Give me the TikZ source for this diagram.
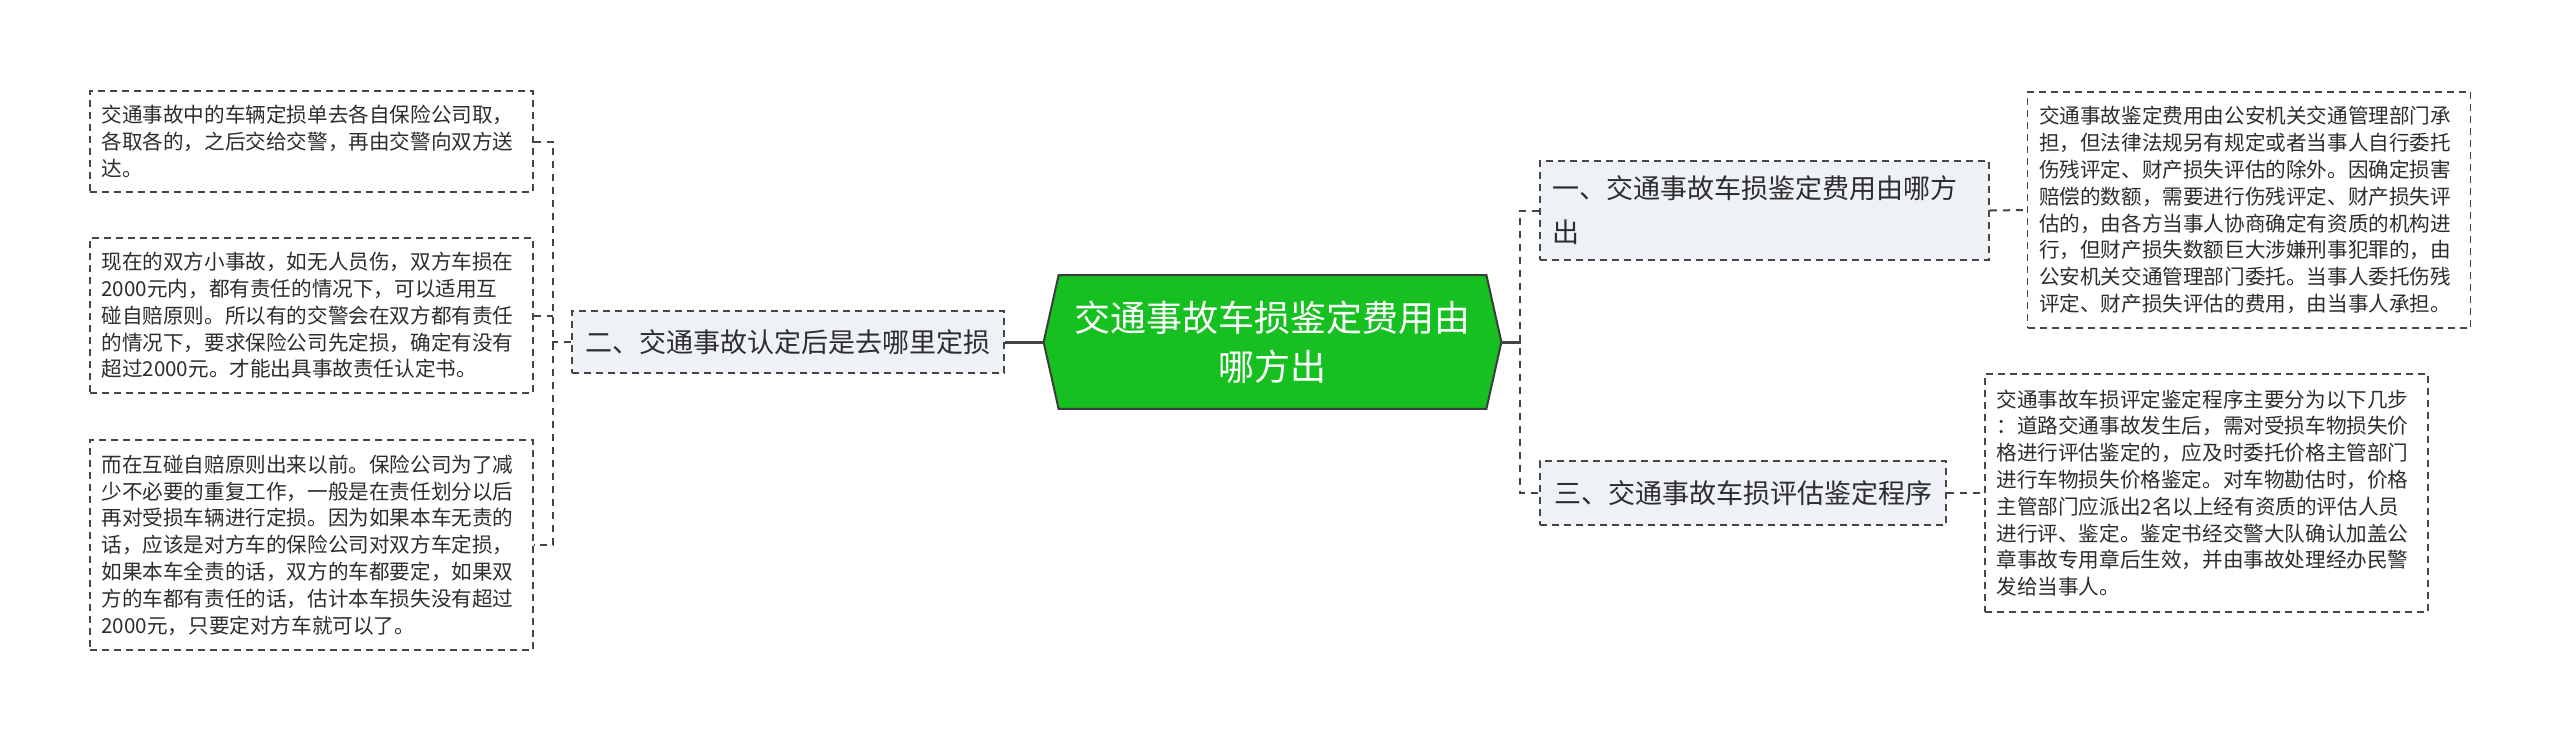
\documentclass[tikz,border=0pt]{standalone}
\usepackage{fontspec}
\setmainfont{Noto Sans CJK SC}
\usetikzlibrary{backgrounds}
\definecolor{ink}{RGB}{45,45,45}
\definecolor{lineclr}{RGB}{68,68,68}
\definecolor{boxline}{RGB}{70,70,70}
\definecolor{secfill}{RGB}{238,241,245}
\definecolor{cgreen}{RGB}{22,192,32}
\definecolor{cborder}{RGB}{60,60,60}
\tikzset{
  tbox/.style={draw=boxline, line width=0.75pt, dash pattern=on 3.5pt off 2.5pt,
    fill=white, text width=210pt, inner xsep=5.75pt, inner ysep=0pt, align=left,
    font=\fontsize{10.3pt}{13.4pt}\selectfont, text=ink, anchor=center},
  sbox/.style={draw=boxline, line width=0.75pt, dash pattern=on 3.5pt off 2.5pt,
    fill=secfill, inner xsep=6pt, inner ysep=0pt, align=left,
    font=\fontsize{13.5pt}{22pt}\selectfont, text=ink, anchor=center},
  cbox/.style={minimum width=228.5pt, minimum height=66.5pt, inner sep=0pt, align=center,
    font=\fontsize{18pt}{24.5pt}\selectfont, text=white, anchor=center},
  dcon/.style={draw=lineclr, line width=1pt, dash pattern=on 3.5pt off 3pt},
  scon/.style={draw=lineclr, line width=1.5pt},
}
\begin{document}
\begin{tikzpicture}[x=0.5pt,y=-0.5pt]
\useasboundingbox (0,0) rectangle (2560,740);

% central
\node[cbox] (c) at (1272.5,342) {交通事故车损鉴定费用由\\哪方出};

% secondary
\node[sbox, minimum width=216pt, minimum height=31pt] (m) at (788,342) {二、交通事故认定后是去哪里定损};
\node[sbox, text width=212.5pt, minimum height=49.5pt] (r1) at (1764.5,210.5) {一、交通事故车损鉴定费用由哪方\\出};
\node[sbox, minimum width=203pt, minimum height=32pt] (r3) at (1743,493) {三、交通事故车损评估鉴定程序};

% text boxes left
\node[tbox, minimum height=50.5pt] (l1) at (311.5,141.5) {交通事故中的车辆定损单去各自保险公司取，\\
各取各的，之后交给交警，再由交警向双方送\\
达。};
\node[tbox, minimum height=77.5pt] (l2) at (311.5,315.5) {现在的双方小事故，如无人员伤，双方车损在\\
2000元内，都有责任的情况下，可以适用互\\
碰自赔原则。所以有的交警会在双方都有责任\\
的情况下，要求保险公司先定损，确定有没有\\
超过2000元。才能出具事故责任认定书。};
\node[tbox, minimum height=105pt] (l3) at (311.5,545) {而在互碰自赔原则出来以前。保险公司为了减\\
少不必要的重复工作，一般是在责任划分以后\\
再对受损车辆进行定损。因为如果本车无责的\\
话，应该是对方车的保险公司对双方车定损，\\
如果本车全责的话，双方的车都要定，如果双\\
方的车都有责任的话，估计本车损失没有超过\\
2000元，只要定对方车就可以了。};

% text boxes right
\node[tbox, minimum height=118pt] (t1) at (2249,210) {交通事故鉴定费用由公安机关交通管理部门承\\
担，但法律法规另有规定或者当事人自行委托\\
伤残评定、财产损失评估的除外。因确定损害\\
赔偿的数额，需要进行伤残评定、财产损失评\\
估的，由各方当事人协商确定有资质的机构进\\
行，但财产损失数额巨大涉嫌刑事犯罪的，由\\
公安机关交通管理部门委托。当事人委托伤残\\
评定、财产损失评估的费用，由当事人承担。};
\node[tbox, minimum height=119pt] (t3) at (2206.5,493) {交通事故车损评定鉴定程序主要分为以下几步\\
：道路交通事故发生后，需对受损车物损失价\\
格进行评估鉴定的，应及时委托价格主管部门\\
进行车物损失价格鉴定。对车物勘估时，价格\\
主管部门应派出2名以上经有资质的评估人员\\
进行评、鉴定。鉴定书经交警大队确认加盖公\\
章事故专用章后生效，并由事故处理经办民警\\
发给当事人。};

\begin{scope}[on background layer]
  \fill[white] (0,0) rectangle (2560,740);
  \filldraw[fill=cgreen, draw=cborder, line width=1pt, line join=miter]
    (c.west) -- ([xshift=7.5pt]c.north west) -- ([xshift=-7.5pt]c.north east)
    -- (c.east) -- ([xshift=-7.5pt]c.south east) -- ([xshift=7.5pt]c.south west) -- cycle;
\end{scope}

% connectors
\draw[scon] (c.west) -- (m.east);
\draw[scon] (c.east) -- ++(20,0);
\draw[dcon] (r1.west) -- ++(-19,0) |- (r3.west);
\draw[dcon] (r1.east) -- (t1.west);
\draw[dcon] (r3.east) -- (t3.west);
\draw[dcon] (l1.east) -- ++(19.5,0) |- (l3.east);
\draw[dcon] (l2.east) -- ++(19.5,0);
\draw[dcon] (m.west) -- ++(-19.5,0);
\end{tikzpicture}
\end{document}
